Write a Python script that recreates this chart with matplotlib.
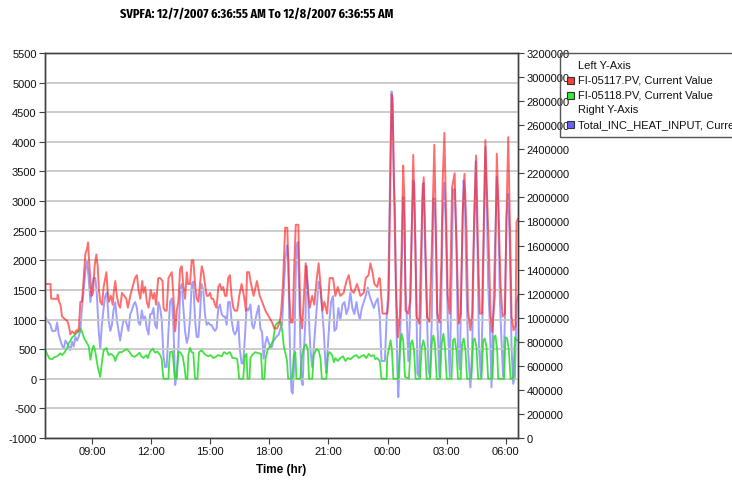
import matplotlib
matplotlib.use("Agg")
import matplotlib.pyplot as plt
import matplotlib.dates as mdates
from matplotlib.patches import Rectangle
from matplotlib.ticker import FuncFormatter
from datetime import datetime, timedelta

plt.rcParams['font.family'] = ['Liberation Sans', 'DejaVu Sans']
plt.rcParams['axes.unicode_minus'] = False

title = "SVPFA: 12/7/2007 6:36:55 AM To 12/8/2007 6:36:55 AM"
legend_labels = ["FI-05117.PV, Current Value", "FI-05118.PV, Current Value",
                 "Total_INC_HEAT_INPUT, Current Value"]

# times are clock hours counted from midnight 12/7/2007 (24 = 00:00 on 12/8)
red_h = [6.62, 6.89, 6.93, 7.23, 7.26, 7.33, 7.40, 7.48, 7.65, 7.74, 7.82, 7.90, 7.99, 8.11, 8.21, 8.27, 8.33, 8.41, 8.49, 8.58,
         8.66, 8.75, 8.80, 8.85, 8.92, 8.98, 9.05, 9.13, 9.22, 9.29, 9.35, 9.42, 9.51, 9.59, 9.73, 9.79, 9.86, 9.96, 10.05, 10.10,
         10.18, 10.26, 10.35, 10.43, 10.52, 10.64, 10.74, 10.82, 10.94, 11.06, 11.18, 11.28, 11.36, 11.45, 11.55, 11.61, 11.70, 11.78, 11.87, 11.98,
         12.09, 12.17, 12.25, 12.36, 12.46, 12.58, 12.63, 12.71, 12.79, 12.88, 12.96, 13.05, 13.13, 13.22, 13.30, 13.38, 13.47, 13.55, 13.64, 13.72,
         13.81, 13.87, 13.97, 14.06, 14.14, 14.23, 14.31, 14.40, 14.48, 14.57, 14.65, 14.73, 14.82, 14.90, 14.99, 15.07, 15.15, 15.24, 15.32, 15.41,
         15.49, 15.58, 15.66, 15.75, 15.83, 15.91, 16.00, 16.08, 16.17, 16.25, 16.37, 16.47, 16.59, 16.71, 16.81, 16.87, 16.97,
         17.04, 17.20, 17.37, 17.51, 17.63, 17.80, 17.97, 18.14, 18.25, 18.39, 18.52, 18.59, 18.69, 18.80, 18.91, 19.00, 19.08, 19.18, 19.27, 19.34,
         19.47, 19.57, 19.66, 19.74, 19.84, 19.95, 20.05, 20.17, 20.28, 20.39, 20.50, 20.59, 20.69, 20.79, 20.93, 21.06, 21.23, 21.35, 21.47, 21.60,
         21.77, 21.91, 22.03, 22.15, 22.28, 22.45, 22.62, 22.79, 22.89, 23.03, 23.13, 23.23, 23.33, 23.47, 23.57,
         23.61, 23.74, 23.98, 24.05, 24.13, 24.20, 24.25, 24.32, 24.42, 24.52, 24.62, 24.71, 24.79, 24.85, 24.91, 25.05, 25.15, 25.22, 25.30, 25.37,
         25.47, 25.61, 25.69, 25.76, 25.83, 25.90, 26.00, 26.12, 26.24, 26.30, 26.37, 26.44, 26.52, 26.63, 26.73, 26.79, 26.88, 26.95, 27.05, 27.15,
         27.27, 27.40, 27.49, 27.61, 27.71, 27.81, 27.90, 28.00, 28.08, 28.20, 28.29, 28.39, 28.49, 28.59, 28.68, 28.79, 28.88, 28.96, 29.03, 29.13,
         29.22, 29.30, 29.44, 29.54, 29.64, 29.73, 29.83, 29.95, 30.03, 30.12, 30.20, 30.29, 30.39, 30.49, 30.54, 30.615]
red_v = [1600, 1600, 1350, 1350, 1420, 1300, 1250, 1050, 1000, 980, 900, 750, 800, 760, 820, 800, 850, 1300, 1300, 1700,
         2100, 2200, 2300, 2000, 1650, 1400, 1450, 1900, 2100, 1900, 1500, 1300, 1250, 1550, 1800, 1500, 1300, 1400, 1250, 1450,
         1650, 1400, 1250, 1200, 1450, 1400, 1350, 1200, 1400, 1550, 1700, 1750, 1500, 1350, 1650, 1450, 1550, 1300, 1200, 1500,
         1350, 1450, 1250, 1700, 1700, 1650, 1200, 1150, 1150, 1700, 1750, 1800, 1400, 800, 1150, 1300, 1850, 1900, 1550, 1350,
         1800, 1600, 1600, 2000, 2000, 1600, 1350, 1300, 1600, 1900, 1800, 1600, 1400, 1400, 1450, 1350, 1350, 1250, 1200, 1550,
         1600, 1500, 1550, 1400, 1400, 1700, 1750, 1400, 1200, 1150, 1150, 1400, 1600, 1400, 1150, 1800, 1800,
         1650, 1400, 1650, 1400, 1300, 1150, 1050, 950, 850, 850, 950, 1100, 1600, 2550, 2550, 1500, 950, 950, 2000, 2600,
         2600, 1100, 850, 1300, 1950, 1500, 1200, 1400, 1250, 1650, 1950, 1600, 1150, 1300, 1100, 1700, 1700, 1400, 1550, 1400,
         1450, 1650, 1750, 1500, 1450, 1600, 1400, 1450, 1700, 1750, 1950, 1800, 1600, 1550, 1700,
         1690, 1100, 1100, 1350, 3200, 4800, 4750, 3300, 1600, 700, 1050, 2200, 3600, 3000, 1150, 1100, 1350, 2450, 3780, 2750,
         1050, 930, 2000, 3000, 3400, 2500, 1050, 960, 2200, 3000, 3950, 2700, 1100, 950, 2000, 3300, 4150, 3000, 1400, 1100,
         3230, 3470, 2330, 930, 1100, 2800, 3460, 2500, 1150, 820, 1100, 2700, 3770, 2100, 1100, 1100, 2700, 4030, 3250, 2250,
         1100, 790, 1400, 3800, 2700, 1600, 1050, 1100, 2700, 4080, 2700, 1050, 820, 900, 2650, 2700]

green_h = [6.64, 6.72, 6.84, 6.98, 7.06, 7.23, 7.31, 7.40, 7.48, 7.57, 7.65, 7.74, 7.82, 7.90, 7.99, 8.07, 8.16, 8.24, 8.33, 8.41,
           8.49, 8.58, 8.66, 8.75, 8.83, 8.92, 9.00, 9.08, 9.17, 9.29, 9.42, 9.51, 9.59, 9.73, 9.84, 9.96, 10.10, 10.18, 10.26, 10.38,
           10.52, 10.64, 10.77, 10.91, 11.02, 11.16, 11.28, 11.41, 11.50, 11.61, 11.75, 11.83, 11.95, 12.09, 12.20, 12.32, 12.46, 12.54, 12.59, 12.63,
           12.88, 12.91, 12.96, 13.08, 13.13, 13.20, 13.30, 13.38, 13.47, 13.60, 13.69, 13.76, 13.84, 13.89, 13.97, 14.06, 14.14, 14.23, 14.35, 14.43,
           14.57, 14.68, 14.78, 14.90, 15.02, 15.15, 15.29, 15.41, 15.58, 15.70, 15.83, 16.00, 16.13, 16.25, 16.37, 16.47, 16.67, 16.76, 16.84, 16.89,
           16.99, 17.04,
           17.12, 17.29, 17.46, 17.58, 17.64, 17.75, 17.81, 17.92, 18.05, 18.19, 18.30, 18.42, 18.56, 18.66, 18.73, 18.81, 18.90, 18.95, 19.15, 19.24,
           19.32, 19.37, 19.57, 19.66, 19.78, 19.86, 19.95, 20.01, 20.18, 20.25, 20.39, 20.50, 20.59, 20.66, 20.89, 20.98, 21.06, 21.18, 21.27, 21.35,
           21.47, 21.60, 21.74, 21.86, 21.98, 22.11, 22.28, 22.42, 22.53, 22.65, 22.79, 22.92, 23.04, 23.16, 23.30, 23.38, 23.47, 23.60,
           23.69, 23.95, 23.98, 24.07, 24.15, 24.22, 24.29, 24.54, 24.62, 24.71, 24.79, 24.88, 25.08, 25.17, 25.25, 25.34, 25.42, 25.64, 25.73, 25.81,
           25.90, 25.98, 26.15, 26.24, 26.32, 26.40, 26.49, 26.66, 26.74, 26.83, 26.91, 27.00, 27.24, 27.32, 27.40, 27.49, 27.57, 27.71, 27.78, 27.86,
           27.95, 28.03, 28.25, 28.34, 28.42, 28.51, 28.59, 28.76, 28.85, 28.93, 29.02, 29.10, 29.32, 29.39, 29.47, 29.56, 29.61, 29.91, 29.98, 30.07,
           30.15, 30.24, 30.37, 30.46, 30.54, 30.615]
green_v = [480, 420, 340, 330, 360, 380, 400, 430, 400, 430, 470, 520, 600, 640, 700, 720, 750, 780, 800, 850,
           800, 700, 650, 600, 550, 320, 480, 560, 450, 200, 30, 300, 480, 520, 400, 420, 380, 300, 380, 450,
           450, 480, 500, 450, 390, 370, 400, 440, 380, 350, 400, 350, 460, 510, 440, 460, 400, 330, 100, 0,
           0, 250, 450, 460, 300, 0, 0, 450, 450, 380, 200, 0, 0, 400, 520, 450, 440, 0, 0, 450,
           480, 430, 400, 380, 400, 350, 370, 400, 380, 450, 420, 450, 350, 350, 330, 0, 0, 400, 420, 0,
           0, 350,
           400, 450, 430, 420, 0, 0, 350, 500, 550, 650, 900, 950, 960, 800, 550, 430, 300, 0, 0, 400,
           450, 0, 0, 400, 550, 580, 500, 0, 0, 400, 500, 480, 350, 0, 0, 420, 450, 400, 280, 350,
           300, 350, 380, 300, 350, 330, 380, 400, 350, 380, 400, 350, 420, 380, 400, 330, 350, 300,
           0, 0, 370, 510, 650, 480, 0, 0, 480, 760, 650, 30, 0, 590, 650, 480, 0, 0, 530, 650,
           530, 0, 0, 590, 730, 590, 0, 0, 590, 760, 530, 0, 0, 650, 680, 480, 0, 0, 590, 680,
           480, 0, 0, 650, 680, 530, 0, 0, 650, 680, 530, 0, 0, 700, 730, 480, 0, 0, 700, 680,
           480, 0, 0, 700, 650, 650]

heat_h = [6.64, 6.72, 6.81, 6.89, 6.98, 7.06, 7.15, 7.23, 7.31, 7.40, 7.48, 7.57, 7.65, 7.73, 7.82, 7.90, 7.99, 8.07, 8.16, 8.24,
          8.32, 8.41, 8.49, 8.58, 8.66, 8.75, 8.83, 8.92, 9.00, 9.08, 9.17, 9.25, 9.34, 9.42, 9.50, 9.59, 9.67, 9.76, 9.84, 9.93,
          10.01, 10.09, 10.18, 10.26, 10.35, 10.43, 10.52, 10.60, 10.69, 10.77, 10.85, 10.94, 11.02, 11.11, 11.19, 11.28, 11.36, 11.44, 11.53, 11.61,
          11.70, 11.78, 11.87, 11.95, 12.03, 12.12, 12.20, 12.29, 12.37, 12.46, 12.54, 12.62, 12.71, 12.79, 12.88, 12.96, 13.05, 13.13, 13.22, 13.30,
          13.38, 13.47, 13.55, 13.64, 13.72, 13.81, 13.89, 13.97, 14.06, 14.14, 14.23, 14.31, 14.40, 14.48, 14.56, 14.65, 14.73, 14.82, 14.90, 14.99,
          15.07, 15.15, 15.24, 15.32, 15.41, 15.49, 15.58, 15.66, 15.75, 15.83, 15.91, 16.00, 16.08, 16.17, 16.25, 16.34, 16.42, 16.50, 16.59, 16.67,
          16.76, 16.84, 16.93,
          17.04, 17.12, 17.20, 17.34, 17.46, 17.54, 17.63, 17.71, 17.80, 17.88, 17.97, 18.09, 18.22, 18.35, 18.47, 18.56, 18.64, 18.73, 18.81, 18.90,
          18.96, 19.01, 19.07, 19.12, 19.18, 19.25, 19.32, 19.37, 19.44, 19.51, 19.57, 19.62, 19.69, 19.74, 19.83, 19.88, 19.95, 20.01, 20.08, 20.17,
          20.25, 20.34, 20.42, 20.50, 20.59, 20.67, 20.76, 20.84, 20.89, 20.96, 21.05, 21.13, 21.23, 21.30, 21.40, 21.50, 21.60, 21.71, 21.81, 21.91,
          22.01, 22.11, 22.21, 22.31, 22.42, 22.48, 22.59, 22.69, 22.79, 22.89, 22.99, 23.09, 23.19, 23.30, 23.40, 23.50, 23.60,
          23.69, 23.86, 23.95, 24.03, 24.12, 24.20, 24.25, 24.32, 24.37, 24.42, 24.49, 24.54, 24.59, 24.66, 24.74, 24.79, 24.85, 24.91, 24.96, 25.05,
          25.13, 25.22, 25.30, 25.35, 25.42, 25.51, 25.59, 25.68, 25.78, 25.83, 25.90, 25.98, 26.07, 26.15, 26.24, 26.32, 26.39, 26.46, 26.52, 26.63,
          26.71, 26.79, 26.88, 26.96, 27.05, 27.15, 27.24, 27.32, 27.40, 27.49, 27.57, 27.66, 27.74, 27.85, 27.91, 28.00, 28.08, 28.20, 28.29, 28.37,
          28.47, 28.56, 28.64, 28.73, 28.81, 28.90, 28.96, 29.03, 29.10, 29.18, 29.27, 29.35, 29.44, 29.54, 29.61, 29.69, 29.78, 29.86, 29.95, 30.03,
          30.12, 30.20, 30.29, 30.37, 30.46, 30.54, 30.615]
heat_v = [1000000, 980000, 960000, 940000, 890000, 890000, 890000, 960000, 860000, 810000, 770000, 740000, 810000, 790000, 760000, 730000, 800000, 760000, 840000, 810000,
          840000, 890000, 1080000, 1230000, 1380000, 1480000, 1330000, 1130000, 1250000, 1330000, 1330000, 1180000, 890000, 740000, 940000, 1080000, 1180000, 1210000, 980000, 890000,
          940000, 1060000, 1130000, 980000, 890000, 810000, 910000, 980000, 980000, 940000, 890000, 1030000, 1060000, 1110000, 1130000, 1080000, 960000, 940000, 1060000, 980000,
          1010000, 910000, 860000, 1030000, 1030000, 1080000, 940000, 910000, 1130000, 1080000, 980000, 690000, 590000, 590000, 890000, 1130000, 1160000, 940000, 440000, 540000,
          740000, 1230000, 1280000, 1080000, 890000, 790000, 840000, 980000, 1280000, 1300000, 980000, 840000, 840000, 1030000, 1280000, 1230000, 1030000, 940000, 960000, 940000,
          940000, 910000, 890000, 910000, 1080000, 1110000, 1030000, 1010000, 1010000, 940000, 1130000, 1130000, 980000, 890000, 860000, 890000, 980000, 740000, 620000, 620000,
          840000, 1080000, 1060000,
          1110000, 940000, 910000, 1020000, 1100000, 910000, 880000, 660000, 790000, 840000, 790000, 740000, 810000, 840000, 860000, 910000, 940000, 1230000, 1480000, 1600000,
          1480000, 980000, 590000, 390000, 370000, 590000, 1230000, 1580000, 1630000, 1230000, 790000, 490000, 440000, 690000, 980000, 1430000, 1280000, 980000, 740000, 590000,
          740000, 940000, 1130000, 1300000, 1230000, 1080000, 890000, 620000, 540000, 740000, 980000, 1130000, 1180000, 890000, 910000, 1080000, 980000, 1110000, 1130000, 1030000,
          1080000, 1210000, 1080000, 1030000, 1130000, 1060000, 980000, 1080000, 1130000, 1180000, 1250000, 1180000, 1130000, 1080000, 1130000, 1160000, 1010000,
          640000, 640000, 1000000, 1200000, 2120000, 2880000, 2760000, 2120000, 1920000, 1230000, 590000, 340000, 540000, 1000000, 1580000, 2000000, 1820000, 1230000, 1060000, 640000,
          980000, 1670000, 2140000, 2120000, 1580000, 540000, 510000, 1030000, 2110000, 2120000, 1580000, 1130000, 570000, 510000, 980000, 1990000, 1990000, 1530000, 980000, 510000,
          980000, 1820000, 2120000, 1720000, 980000, 510000, 1280000, 2060000, 2070000, 1630000, 740000, 570000, 1280000, 2140000, 2070000, 1280000, 740000, 420000, 740000, 1580000,
          2300000, 1580000, 740000, 510000, 980000, 1820000, 2420000, 1970000, 1280000, 980000, 420000, 980000, 1530000, 2170000, 1970000, 1180000, 790000, 510000, 980000, 1840000,
          2030000, 1580000, 740000, 450000, 510000, 1130000, 1180000]

assert len(red_h) == len(red_v) and len(green_h) == len(green_v) and len(heat_h) == len(heat_v)

day0 = datetime(2007, 12, 7)
def as_dates(hours):
    return [day0 + timedelta(hours=h) for h in hours]

start = datetime(2007, 12, 7, 6, 36, 55)
end = start + timedelta(days=1)

W, H = 732, 481
fig = plt.figure(figsize=(W / 100, H / 100), dpi=100)
ax = fig.add_axes([45 / W, 1 - 439 / H, 473 / W, 385 / H])
ax2 = ax.twinx()
ax.set_zorder(ax2.get_zorder() + 1)
ax.patch.set_visible(False)

ax2.plot(as_dates(heat_h), heat_v, color='#5050ff', lw=1.4, alpha=0.55)
ax.plot(as_dates(green_h), green_v, color='#22dd22', lw=1.3, alpha=0.85)
ax.plot(as_dates(red_h), red_v, color='#ff2020', lw=1.4, alpha=0.65)

ax.set_xlim(start, end)
ax.set_ylim(-1000, 5500)
ax.set_yticks(range(-1000, 5501, 500))
ax2.set_ylim(0, 3200000)
ax2.set_yticks(range(0, 3200001, 200000))
ax2.yaxis.set_major_formatter(FuncFormatter(lambda v, p: '%d' % v))
ax.xaxis.set_major_locator(mdates.HourLocator(byhour=[0, 3, 6, 9, 12, 15, 18, 21]))
ax.xaxis.set_major_formatter(mdates.DateFormatter('%H:%M'))

ax.grid(axis='y', color='#c8c8c8', lw=1.3)
ax.set_axisbelow(True)
for a in (ax, ax2):
    for s in a.spines.values():
        s.set_color('#404040')
        s.set_linewidth(1.0)
    a.tick_params(length=4, width=0.8, color='#404040', labelsize=8, pad=2, labelcolor='#111111')

fig.text(257 / W, 1 - 14 / H, title, ha='center', va='center', fontsize=9.5,
         fontweight='bold', family=['Fira Sans Extra Condensed', 'PT Sans Narrow', 'Liberation Sans'])
fig.text(281 / W, 1 - 470 / H, 'Time (hr)', ha='center', va='center', fontsize=8.5, fontweight='bold')

# legend box, cut off by the right edge of the picture as in the original
fig.add_artist(Rectangle((560 / W, 1 - 138 / H), 200 / W, 84 / H, transform=fig.transFigure,
                         fill=False, ec='#555555', lw=1.0))
rows = [(66, 'Left Y-Axis', None), (81, legend_labels[0], '#ff3b3b'), (96, legend_labels[1], '#33ee33'),
        (110, 'Right Y-Axis', None), (125, legend_labels[2], '#6464ff')]
for y, label, col in rows:
    fig.text(578 / W, 1 - y / H, label, ha='left', va='center', fontsize=8, color='#111111')
    if col:
        fig.add_artist(Rectangle((567 / W, 1 - (y + 3.5) / H), 7 / W, 7 / H, transform=fig.transFigure,
                                 fc=col, ec='#333333', lw=0.8))

fig.savefig('out.png', dpi=100)
